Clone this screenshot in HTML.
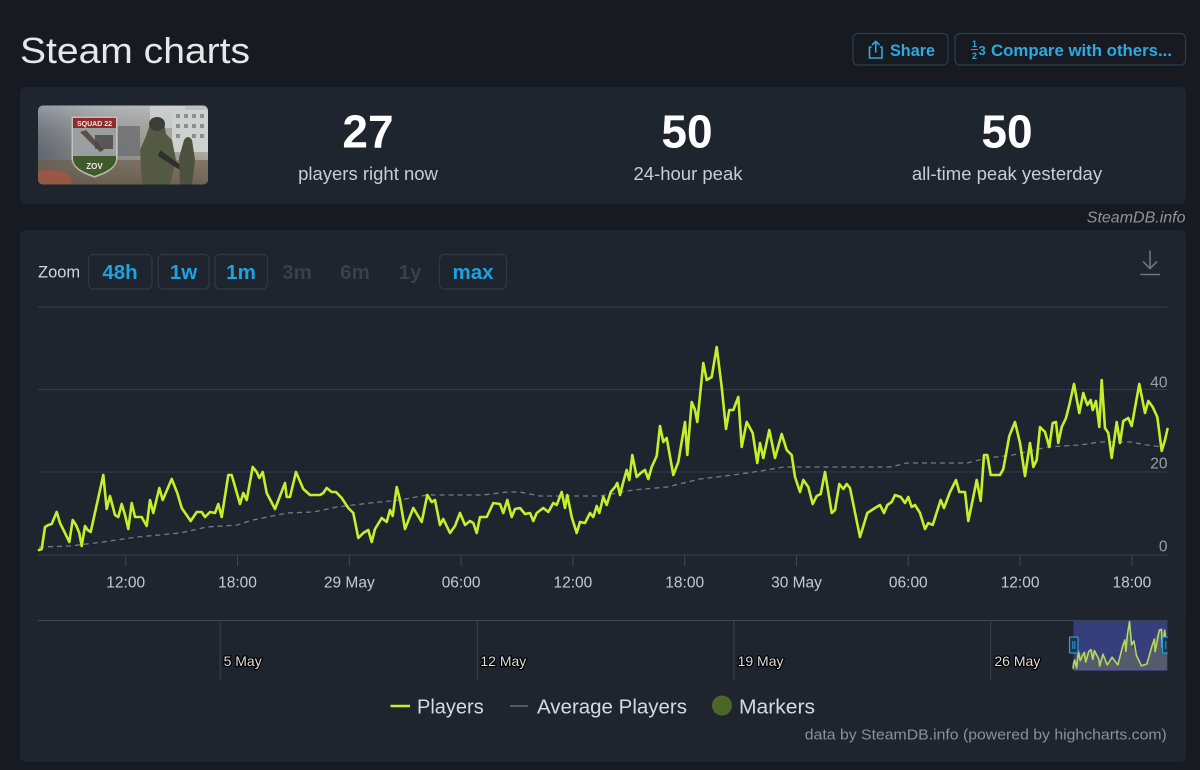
<!DOCTYPE html>
<html><head><meta charset="utf-8"><style>
html,body{margin:0;padding:0;background:#171b21;}
svg{display:block;font-family:"Liberation Sans",sans-serif;}
</style></head><body>
<svg width="1200" height="770" viewBox="0 0 1200 770" xmlns="http://www.w3.org/2000/svg">
<defs>
<linearGradient id="thb" x1="0" y1="0" x2="1" y2="0">
<stop offset="0" stop-color="#5b6470"/><stop offset="0.35" stop-color="#8d9196"/><stop offset="0.7" stop-color="#a7a59f"/><stop offset="1" stop-color="#b9b8b3"/>
</linearGradient>
<linearGradient id="thv" x1="0" y1="0" x2="0" y2="1">
<stop offset="0" stop-color="#d0d3d6" stop-opacity="0.5"/><stop offset="0.6" stop-color="#7a7468" stop-opacity="0.2"/><stop offset="1" stop-color="#5a4a3a" stop-opacity="0.7"/>
</linearGradient>
<clipPath id="thc"><rect x="38" y="105.5" width="170" height="79" rx="5"/></clipPath>
<clipPath id="navc"><rect x="38" y="618" width="1129.5" height="56"/></clipPath>
</defs>
<rect width="1200" height="770" fill="#171b21"/>

<!-- Header -->
<text x="20" y="63" font-size="36" fill="#e6e7e9" textLength="230" lengthAdjust="spacingAndGlyphs">Steam charts</text>
<rect x="853" y="33.5" width="95" height="31.5" rx="5" fill="none" stroke="#2b3d4f" stroke-width="1.2"/>
<rect x="955" y="33.5" width="230.5" height="31.5" rx="5" fill="none" stroke="#2b3d4f" stroke-width="1.2"/>
<g stroke="#2fa8e0" stroke-width="1.6" fill="none" stroke-linecap="round" stroke-linejoin="round">
<path d="M871,47 H869.5 V58 H882 V47 H880.5"/>
<path d="M875.75,52 V41.5 M872.5,44.5 L875.75,41.3 L879,44.5"/>
</g>
<text x="890" y="56" font-size="16.5" font-weight="bold" fill="#2fa8e0" textLength="45" lengthAdjust="spacingAndGlyphs">Share</text>
<text x="972" y="47" font-size="9" font-weight="bold" fill="#2fa8e0">1</text>
<text x="972" y="59" font-size="9" font-weight="bold" fill="#2fa8e0">2</text>
<line x1="971" y1="49.5" x2="978" y2="49.5" stroke="#2fa8e0" stroke-width="1"/>
<text x="978.5" y="55" font-size="13" font-weight="bold" fill="#2fa8e0">3</text>
<text x="991" y="56" font-size="16.5" font-weight="bold" fill="#2fa8e0" textLength="181" lengthAdjust="spacingAndGlyphs">Compare with others...</text>

<!-- Stats card -->
<rect x="20" y="87" width="1166" height="117" rx="6" fill="#1e252f"/>
<g clip-path="url(#thc)">
<rect x="38" y="105" width="170" height="80" fill="url(#thb)"/>
<rect x="38" y="105" width="170" height="80" fill="url(#thv)"/>
<rect x="150" y="106" width="35" height="22" fill="#d3d6d8" opacity="0.7"/>
<rect x="172" y="110" width="36" height="42" fill="#cfd1cf"/>
<g fill="#8d9092"><rect x="176" y="114" width="4" height="4"/><rect x="184" y="114" width="4" height="4"/><rect x="192" y="114" width="4" height="4"/><rect x="200" y="114" width="4" height="4"/><rect x="176" y="124" width="4" height="4"/><rect x="184" y="124" width="4" height="4"/><rect x="192" y="124" width="4" height="4"/><rect x="200" y="124" width="4" height="4"/><rect x="176" y="134" width="4" height="4"/><rect x="192" y="134" width="4" height="4"/><rect x="200" y="134" width="4" height="4"/></g>
<rect x="118" y="126" width="22" height="30" fill="#6c6e72" opacity="0.8"/>
<rect x="38" y="160" width="170" height="25" fill="#6d5c4a" opacity="0.6"/>
<ellipse cx="50" cy="180" rx="22" ry="10" fill="#b5553a" opacity="0.6"/>
<path d="M72,117 H117 V158 Q117,170 94.5,177 Q72,170 72,158 Z" fill="#d9d9d4" stroke="#b9b5a8" stroke-width="1.2"/>
<rect x="73" y="118" width="43" height="10" fill="#8e2b2e"/>
<path d="M73,128 H116 V156 H73 Z" fill="#9aa0a2"/>
<path d="M80,132 L100,152 L104,150 L86,130 Z" fill="#5a4e45"/>
<rect x="95" y="135" width="18" height="14" fill="#4a4446" opacity="0.8"/>
<path d="M73,156 H116 V159 Q116,169 94.5,176 Q73,169 73,159 Z" fill="#3f5a2c"/>
<text x="94.5" y="126" font-size="7" font-weight="bold" fill="#f0e8e0" text-anchor="middle">SQUAD 22</text>
<text x="94.5" y="169" font-size="8" font-weight="bold" fill="#f0e8e0" text-anchor="middle">ZOV</text>
<path d="M150,124 Q157,115 164,122 L166,134 L172,140 L176,160 L170,185 L142,185 L140,150 L146,136 Z" fill="#545944"/>
<ellipse cx="157" cy="124" rx="8" ry="7" fill="#3c3f36"/>
<path d="M160,150 L185,168 L183,172 L158,156 Z" fill="#2f302c"/>
<path d="M184,140 Q188,134 192,140 L195,160 L192,185 L180,185 L179,158 Z" fill="#4d5140"/>
</g>
<text x="368" y="147.5" font-size="46" font-weight="bold" fill="#ffffff" text-anchor="middle">27</text>
<text x="368" y="180" font-size="18.5" fill="#c9cdd2" text-anchor="middle">players right now</text>
<text x="687" y="147.5" font-size="46" font-weight="bold" fill="#ffffff" text-anchor="middle">50</text>
<text x="688" y="180" font-size="18.5" fill="#c9cdd2" text-anchor="middle">24-hour peak</text>
<text x="1007" y="147.5" font-size="46" font-weight="bold" fill="#ffffff" text-anchor="middle">50</text>
<text x="1007" y="180" font-size="18.5" fill="#c9cdd2" text-anchor="middle">all-time peak yesterday</text>
<text x="1185.5" y="222.5" font-size="16" font-style="italic" fill="#8d949c" text-anchor="end">SteamDB.info</text>

<!-- Chart card -->
<rect x="20" y="230" width="1166" height="532" rx="6" fill="#1e252f"/>
<text x="38" y="277.7" font-size="16.5" fill="#d2d6da">Zoom</text>
<g fill="none" stroke="#2e3946" stroke-width="1.2">
<rect x="88.5" y="254.5" width="63.5" height="34.5" rx="5"/>
<rect x="158" y="254.5" width="51" height="34.5" rx="5"/>
<rect x="215" y="254.5" width="52.5" height="34.5" rx="5"/>
<rect x="439.5" y="254.5" width="67" height="34.5" rx="5"/>
</g>
<g font-size="20.5" font-weight="bold" text-anchor="middle">
<text x="120" y="279" fill="#1ea2e0">48h</text>
<text x="183.5" y="279" fill="#1ea2e0">1w</text>
<text x="241" y="279" fill="#1ea2e0">1m</text>
<text x="297" y="279" fill="#36414e">3m</text>
<text x="355" y="279" fill="#36414e">6m</text>
<text x="410" y="279" fill="#36414e">1y</text>
<text x="473" y="279" fill="#1ea2e0">max</text>
</g>
<g stroke="#6b7480" stroke-width="1.6" fill="none" stroke-linecap="round">
<path d="M1150,251 V268 M1143.5,262 L1150,268.5 L1156.5,262"/>
<path d="M1141,274.5 H1159.5"/>
</g>

<!-- gridlines -->
<g stroke="#343d4a" stroke-width="1">
<line x1="38" y1="307" x2="1167.5" y2="307"/>
<line x1="38" y1="389.5" x2="1167.5" y2="389.5"/>
<line x1="38" y1="472" x2="1167.5" y2="472"/>
<line x1="38" y1="555" x2="1167.5" y2="555" stroke="#3b4452"/>
</g>
<g font-size="15.5" fill="#98a0a8" text-anchor="end">
<text x="1167.5" y="387.3">40</text>
<text x="1167.5" y="468.5">20</text>
<text x="1167.5" y="551.7">0</text>
</g>
<g stroke="#3d4654" stroke-width="1">
<line x1="125.7" y1="555" x2="125.7" y2="566"/>
<line x1="237.5" y1="555" x2="237.5" y2="566"/>
<line x1="349.3" y1="555" x2="349.3" y2="566"/>
<line x1="461.1" y1="555" x2="461.1" y2="566"/>
<line x1="572.9" y1="555" x2="572.9" y2="566"/>
<line x1="684.7" y1="555" x2="684.7" y2="566"/>
<line x1="796.5" y1="555" x2="796.5" y2="566"/>
<line x1="908.3" y1="555" x2="908.3" y2="566"/>
<line x1="1020.1" y1="555" x2="1020.1" y2="566"/>
<line x1="1131.9" y1="555" x2="1131.9" y2="566"/>
</g>
<g font-size="15.5" fill="#c6cace" text-anchor="middle">
<text x="125.7" y="587.3">12:00</text>
<text x="237.5" y="587.3">18:00</text>
<text x="349.3" y="587.3">29 May</text>
<text x="461.1" y="587.3">06:00</text>
<text x="572.9" y="587.3">12:00</text>
<text x="684.7" y="587.3">18:00</text>
<text x="796.5" y="587.3">30 May</text>
<text x="908.3" y="587.3">06:00</text>
<text x="1020.1" y="587.3">12:00</text>
<text x="1131.9" y="587.3">18:00</text>
</g>

<path fill="none" stroke="#747c88" stroke-width="1.3" stroke-dasharray="5,4" d="M39,547 L70,546 L103,542 L137,537 L180,533 L207,527 L237,525 L253,520 L287,513 L313,512 L337,507 L370,503 L400,500 L427,495 L483,495 L507,492 L520,492 L540,496 L600,496 L633,490 L667,487 L700,479 L733,475 L767,470 L783,467 L890,467 L907,463 L967,463 L987,458 L1013,455 L1047,447 L1080,445 L1100,442 L1130,442 L1147,445 L1163,447"/>

<path fill="none" stroke="#c3f02b" stroke-width="2.6" stroke-linejoin="round" stroke-linecap="round" d="M39,550 L41.7,549 L45,527 L48.3,525 L51.7,524 L56.7,512 L60,523 L65,533 L69.3,542 L72.7,520 L76,525 L79.3,533 L81.7,546 L85,526 L87.7,530 L90.7,532 L103.3,475 L106.7,509 L110,496 L115,515 L118.3,517 L121.7,504 L125,515 L128.3,529 L131.7,503 L135,517 L141.7,517 L146.7,526 L150,500 L153.3,513 L159.3,488 L162.7,500 L171.7,479 L177.3,493 L181.7,508 L190.7,521 L196.7,512 L201.7,512 L205,517 L210,512 L215,513 L218.3,504 L221.7,517 L228.3,475 L231.7,475 L236,490 L240,504 L243.3,493 L246.7,500 L252.7,467 L256.7,472 L259.3,478 L262.7,472 L266.7,493 L275,509 L285,483 L286.7,497 L290,497 L296,472 L303.3,489 L310,495 L320,495 L323.3,493 L326.7,488 L331.7,492 L336,492 L341.7,498 L348.3,508 L353.3,513 L358.3,538 L363.3,533 L368.3,530 L371.7,542 L375,529 L381.7,518 L386.7,522 L390,510 L392.7,516 L396.7,487 L400,500 L405,529 L413.3,508 L421.7,522 L427.3,495 L431.7,502 L435,500 L440,525 L443.3,519 L450,533 L455,526 L460,513 L465,525 L470,521 L473.3,523 L476.7,533 L480,517 L486.7,517 L493.3,503 L500,504 L503.3,513 L507.3,500 L511.7,517 L515,509 L520,508 L525,514 L530,513 L533.3,521 L536.7,513 L543.3,508 L548.3,512 L553.3,503 L556.7,505 L561.7,492 L565,508 L567.3,495 L571.7,517 L576.7,533 L580,522 L585,523 L590,513 L593.3,517 L596.7,506 L599.3,513 L603.3,497 L606.7,505 L610.7,492 L615,487 L617.3,483 L620,495 L623.3,482 L626.7,470 L629.3,480 L632.3,455 L636.7,477 L640.7,473 L645,470 L648.3,479 L651.7,467 L656.7,456 L660,426 L663.3,442 L666.7,438 L673.3,475 L678.3,462 L685,422 L687.3,455 L691.7,402 L695,410 L697.3,422 L703.3,363 L706.7,380 L711.7,377 L716.7,347 L721.7,387 L726,429 L729.3,410 L733.3,410 L738.3,397 L741.7,447 L746.7,422 L752.7,433 L757.3,463 L760,443 L763.3,458 L769.3,430 L775,458 L781.7,434 L786.7,450 L791.7,455 L795,477 L800,492 L803.3,480 L808.3,487 L812.7,504 L816.7,496 L820.7,494 L825,472 L831.7,513 L835,510 L839.3,484 L843.3,489 L846.7,484 L850,488 L860,537 L867.3,513 L875,508 L880,505 L884,513 L887.3,505 L891.7,502 L895,495 L900.7,497 L905,503 L908.3,497 L911.7,507 L915,505 L920,513 L925,529 L928.3,523 L932.7,525 L940.7,500 L944,508 L950,492 L956,480 L959.3,492 L965,492 L968.3,521 L973.3,497 L976.7,480 L980.7,501 L984,455 L987.3,455 L990.7,475 L1000,475 L1003.3,469 L1009.3,436 L1015,422 L1020,443 L1025,476 L1030,443 L1033.3,467 L1036.7,460 L1040,427 L1045,432 L1049.3,447 L1052.7,423 L1056,422 L1058.3,443 L1061.7,427 L1066,418 L1069.3,405 L1074,384 L1079.3,413 L1083.3,393 L1087.3,405 L1090.7,400 L1092.7,410 L1096,401 L1099.3,427 L1101.7,380 L1105,428 L1108.3,433 L1111.7,458 L1116.7,422 L1120,443 L1123.3,421 L1128.3,418 L1131.7,426 L1139.3,384 L1145,413 L1148.3,401 L1152.7,407 L1157.3,417 L1161.7,451 L1165,440 L1167.5,429"/>

<!-- navigator -->
<line x1="38" y1="620.5" x2="1167.5" y2="620.5" stroke="#3a4453" stroke-width="1.2"/>
<g stroke="#39424f" stroke-width="1">
<line x1="220.2" y1="620.5" x2="220.2" y2="680"/>
<line x1="477.3" y1="620.5" x2="477.3" y2="680"/>
<line x1="734" y1="620.5" x2="734" y2="680"/>
<line x1="990.7" y1="620.5" x2="990.7" y2="680"/>
</g>
<g font-size="14" fill="#dcdcdc" stroke="#000" stroke-width="2.5" paint-order="stroke" stroke-linejoin="round">
<text x="223.6" y="666">5 May</text>
<text x="480.4" y="666">12 May</text>
<text x="737.6" y="666">19 May</text>
<text x="994.4" y="666">26 May</text>
</g>
<g clip-path="url(#navc)">
<rect x="1073.5" y="621" width="94" height="50" fill="#363e7c"/>
<path transform="matrix(0.08326 0 0 0.2323 1069.84 541.07)" fill="#5a5f6b" opacity="0.85" d="M39,550 L56.7,512 L103.3,475 L159.3,488 L171.7,479 L228.3,475 L252.7,467 L296,472 L348.3,508 L358.3,538 L396.7,487 L450,533 L507.3,500 L576.7,533 L632.3,455 L660,426 L691.7,402 L716.7,347 L741.7,447 L800,492 L860,537 L925,529 L984,455 L1015,422 L1074,384 L1101.7,380 L1111.7,458 L1139.3,384 L1161.7,451 L1167.5,429 L1167.5,555 L39,555 Z"/>
<path transform="matrix(0.08326 0 0 0.2323 1069.84 541.07)" fill="none" stroke="#b3d95b" stroke-width="1.6" style="vector-effect:non-scaling-stroke" stroke-linejoin="round" d="M39,550 L45,527 L56.7,512 L81.7,546 L103.3,475 L125,515 L159.3,488 L171.7,479 L190.7,521 L228.3,475 L252.7,467 L275,509 L296,472 L348.3,508 L358.3,538 L396.7,487 L450,533 L507.3,500 L576.7,533 L632.3,455 L660,426 L673.3,475 L691.7,402 L716.7,347 L741.7,447 L769.3,430 L800,492 L860,537 L925,529 L984,455 L1015,422 L1025,476 L1074,384 L1101.7,380 L1111.7,458 L1139.3,384 L1161.7,451 L1167.5,429"/>
</g>
<g fill="#1d3550" stroke="#2a9ed8" stroke-width="1.2">
<rect x="1069.5" y="637" width="8.5" height="16" rx="1"/>
<rect x="1162.5" y="637" width="8.5" height="16" rx="1"/>
</g>
<g stroke="#2a9ed8" stroke-width="1">
<line x1="1072.8" y1="641" x2="1072.8" y2="649"/><line x1="1074.8" y1="641" x2="1074.8" y2="649"/>
<line x1="1165.8" y1="641" x2="1165.8" y2="649"/>
</g>
<rect x="1186" y="600" width="14" height="170" fill="#171b21"/>
<rect x="1167.8" y="618" width="18" height="60" fill="#1e252f"/>

<!-- legend -->
<line x1="390.5" y1="706" x2="410" y2="706" stroke="#c3f02b" stroke-width="2.6"/>
<text x="417" y="713.3" font-size="20" fill="#d6dade">Players</text>
<line x1="510" y1="706" x2="528" y2="706" stroke="#4f5764" stroke-width="2"/>
<text x="537" y="713.3" font-size="20" fill="#d6dade" textLength="150" lengthAdjust="spacingAndGlyphs">Average Players</text>
<circle cx="722" cy="705.5" r="10" fill="#4c6529"/>
<text x="739" y="713.3" font-size="20" fill="#d6dade" textLength="76" lengthAdjust="spacingAndGlyphs">Markers</text>
<text x="1166.8" y="739.5" font-size="15" fill="#8b9199" text-anchor="end" textLength="362" lengthAdjust="spacingAndGlyphs">data by SteamDB.info (powered by highcharts.com)</text>
</svg>
</body></html>
